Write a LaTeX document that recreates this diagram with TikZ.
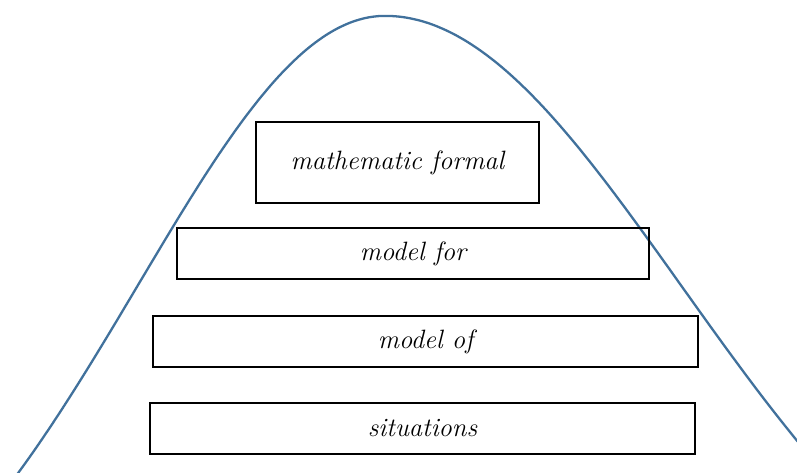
\documentclass[tikz,border=0pt]{standalone}
\usepackage{tikz}
\usetikzlibrary{positioning}
\definecolor{curveC}{HTML}{41719C}

\begin{document}
\begin{tikzpicture}[x=1pt,y=-1pt,
    levelbox/.style={draw=black,line width=1.1pt,inner sep=0pt,
      font=\fontsize{26.5}{30}\selectfont\itshape}]
  \useasboundingbox (0,0) rectangle (797,472);
  \clip (0,0) rectangle (797,472);

  % bell curve (wider on the right)
  \draw[curveC,line width=2.3pt,line join=round] plot[domain=0:800,samples=161,smooth]
    (\x,{700-684*exp(-((\x-385)/100)*((\x-385)/100)/ifthenelse(\x<385,12.2,17.5))});

  % levels
  \node[levelbox,minimum width=283pt,minimum height=81pt] (formal) at (397.5,162.5) {mathematic formal};
  \node[levelbox,minimum width=472pt,minimum height=51pt] (modelfor) at (413,253.5) {model for};
  \node[levelbox,minimum width=545pt,minimum height=51pt] (modelof) at (425.5,341.5) {model of};
  \node[levelbox,minimum width=545pt,minimum height=51pt] (situations) at (422.5,428.5) {situations};
\end{tikzpicture}
\end{document}
